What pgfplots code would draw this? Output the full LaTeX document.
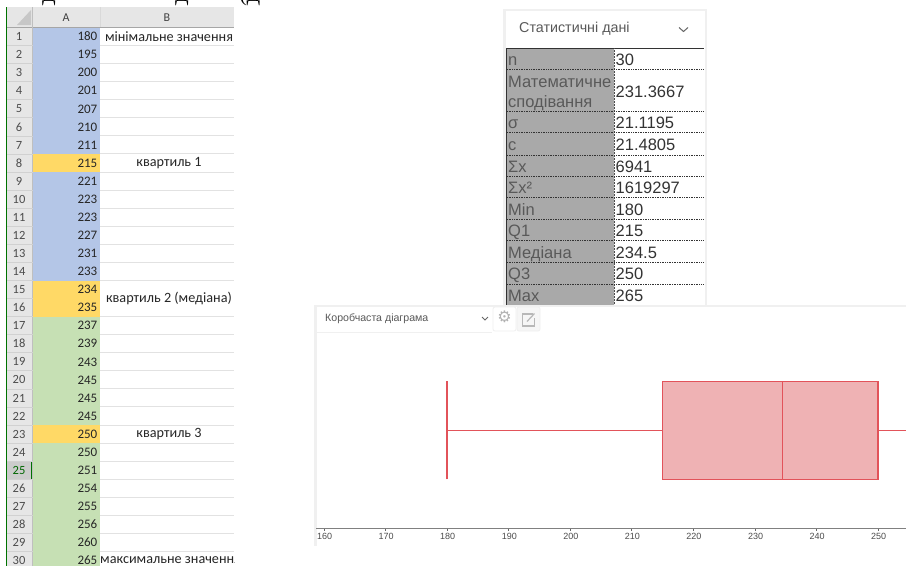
\documentclass[border=0pt]{standalone}
\usepackage{pgfplots}
\pgfplotsset{compat=1.18}
\usepgfplotslibrary{statistics}
\usepackage{fontspec}
\setmainfont{Liberation Sans}
\newfontfamily\calibri{Carlito}
\newfontfamily\tnr{Liberation Serif}
\newfontfamily\dejavu{DejaVu Sans}
\definecolor{sblue}{HTML}{B4C6E7}
\definecolor{sgreen}{HTML}{C6E0B4}
\definecolor{syellow}{HTML}{FFD966}
\definecolor{shead}{HTML}{E6E6E6}
\definecolor{sgrid}{HTML}{E2E2E2}
\definecolor{boxfill}{HTML}{EFB2B4}
\definecolor{boxline}{HTML}{E2535A}
\definecolor{panel}{HTML}{F0F0F0}
\definecolor{tgrey}{HTML}{A9A9A9}
\begin{document}
\begin{tikzpicture}[x=1pt,y=-1pt]
\useasboundingbox (0,0) rectangle (906,566);
\fill[white] (0,0) rectangle (906,566);
\begin{scope}
\clip (0,0) rectangle (906,566);
% clipped line of text at the top
\node[font=\tnr\fontsize{20}{20}\selectfont,anchor=base,black] at (49,1) {Д};
\node[font=\tnr\fontsize{20}{20}\selectfont,anchor=base,black] at (182,1) {Д};
\node[font=\tnr\fontsize{20}{20}\selectfont,anchor=base,black] at (250,1) {(Д};
% spreadsheet
\fill[shead] (7,7) rectangle (234,27);
\fill[shead] (7,27) rectangle (32.5,566);
\fill[sblue] (33,27.5) rectangle (100,280.5);
\fill[sgreen] (33,316.6) rectangle (100,566);
\fill[syellow] (33,154) rectangle (100,172);
\fill[syellow] (33,280.5) rectangle (100,316.6);
\fill[syellow] (33,425) rectangle (100,443);
\fill[white!80!black] (7,461.2) rectangle (32.5,479.2);
\draw[green!45!black,line width=1.2pt] (6.5,7) -- (6.5,566);
\draw[green!45!black,line width=1pt] (31.8,461.2) -- (31.8,479.2);
\draw[black!35,line width=.8pt] (7,27.2) -- (234,27.2);
\draw[black!25,line width=.6pt] (32.5,7) -- (32.5,566);
\draw[black!15,line width=.6pt] (100,7) -- (100,27);
\fill[black!22] (31,10) -- (31,25) -- (17,25) -- cycle;
\node[font=\calibri\fontsize{12}{12}\selectfont,text=black!75] at (66,18) {A};
\node[font=\calibri\fontsize{12}{12}\selectfont,text=black!75] at (167,18) {B};
\foreach \v [count=\i] in {180,195,200,201,207,210,211,215,221,223,223,227,231,233,234,235,237,239,243,245,245,245,250,250,251,254,255,256,260,265} {
  \pgfmathsetmacro{\yb}{27.5+18.07*\i}
  \pgfmathsetmacro{\yc}{\yb-9}
  \ifnum\i=15\else\draw[sgrid,line width=1pt] (100,\yb) -- (234,\yb);\fi
  \draw[black!18,line width=.8pt] (7,\yb) -- (32.5,\yb);
  \ifnum\i=25
    \node[font=\calibri\fontsize{12.5}{12}\selectfont,text=green!40!black] at (19,\yc) {\i};
  \else
    \node[font=\calibri\fontsize{12.5}{12}\selectfont,text=black!70] at (19,\yc) {\i};
  \fi
  \node[font=\calibri\fontsize{13}{12}\selectfont,text=black!85,anchor=east,inner xsep=0pt] at (97.5,\yc) {\v};
}
\node[font=\calibri\fontsize{14.2}{12}\selectfont,text=black!85] at (169,36.5) {мінімальне значення};
\node[font=\calibri\fontsize{14.2}{12}\selectfont,text=black!85] at (169,163) {квартиль 1};
\node[font=\calibri\fontsize{14.2}{12}\selectfont,text=black!85] at (169,298.5) {квартиль 2 (медіана)};
\node[font=\calibri\fontsize{14.2}{12}\selectfont,text=black!85] at (169,434) {квартиль 3};
\begin{scope}
\clip (100,545) rectangle (234,566);
\node[font=\calibri\fontsize{14.2}{12}\selectfont,text=black!85,anchor=west,inner xsep=0pt] at (100,560) {максимальне значення};
\end{scope}
% statistics panel
\fill[panel] (503,9) rectangle (706,11);
\fill[panel] (503,9) rectangle (506,305);
\fill[panel] (705,9) rectangle (706.5,305);
\node[font=\fontsize{14.3}{15}\selectfont,text=black!65,anchor=west,inner xsep=0pt] at (519,29) {Статистичні дані};
\draw[black!60,line width=1pt] (679,27.5) -- (683.5,31.5) -- (688,27.5);
\fill[tgrey] (506.5,48) rectangle (614,305);
\draw[black!80,line width=.9pt] (506,48) -- (704,48);
\draw[black!80,line width=.6pt] (506.5,48) -- (506.5,305);
\draw[black!70,densely dotted,line width=.5pt] (614,48) -- (614,305);
\foreach \yy in {69.5,111,132.7,155,176,197.7,219.3,240.7,262,284} {
  \draw[black!80,densely dotted,line width=.7pt] (507,\yy) -- (704,\yy);
}
\foreach \lab/\val/\yb in {n/30/65.5,σ/21.1195/128,c/21.4805/150,Σx/6941/172,Σx²/1619297/193,Min/180/215,Q1/215/236.5,Медіана/234.5/258,Q3/250/279.5,Max/265/301} {
  \node[font=\fontsize{16.5}{17}\selectfont,text=black!65,anchor=base west,inner xsep=0pt] at (508,\yb) {\lab};
  \node[font=\fontsize{16.5}{17}\selectfont,text=black!80,anchor=base west,inner xsep=0pt] at (615.5,\yb) {\val};
}
\node[font=\fontsize{16.5}{17}\selectfont,text=black!65,anchor=base west,inner xsep=0pt] at (508,87) {Математичне};
\node[font=\fontsize{16.5}{17}\selectfont,text=black!65,anchor=base west,inner xsep=0pt] at (508,107) {сподівання};
\node[font=\fontsize{16.5}{17}\selectfont,text=black!80,anchor=base west,inner xsep=0pt] at (615.5,97) {231.3667};
% chart panel
\fill[white] (316,305) rectangle (906,566);
\fill[panel] (316,304.5) rectangle (906,306.5);
\fill[panel] (314,305) rectangle (316.5,546);
\draw[panel,line width=.8pt] (316,332) -- (492,332);
\node[font=\fontsize{10.6}{11}\selectfont,text=black!65,anchor=west,inner xsep=0pt] at (325,318.5) {Коробчаста діаграма};
\draw[black!60,line width=.8pt] (482,317) -- (485,320) -- (488,317);
\draw[panel,line width=.8pt,rounded corners=2pt] (493,307) rectangle (516,331);
\draw[panel,line width=.8pt,fill=panel!60,rounded corners=2pt] (517,307) rectangle (540,331);
\node[font=\dejavu\fontsize{16}{16}\selectfont,text=black!30] at (504.5,316.5) {⚙};
\draw[black!28,line width=1.2pt] (533,314) -- (522.5,314) -- (522.5,326) -- (534.5,326) -- (534.5,318);
\draw[black!28,line width=1.2pt] (527,321.5) -- (534.5,313.5);
\end{scope}
\begin{axis}[
  at={(316pt,-528pt)}, anchor=south west,
  scale only axis, width=590pt, height=195pt,
  xmin=158.72, xmax=254.55, ymin=0, ymax=195,
  hide y axis,
  axis x line*=bottom,
  x axis line style={draw=black!50,line width=1pt,-},
  xtick={160,170,...,250},
  xtick pos=bottom,
  major tick length=2.5pt,
  xtick style={draw=black!60,line width=.5pt},
  tick align=outside,
  xticklabel style={font=\fontsize{9}{9}\selectfont,text=black!70,yshift=1pt,xshift=.7pt,/pgf/number format/assume math mode=true},
  /pgf/number format/1000 sep={},
  clip=true,
]
\addplot+[
  mark=none, solid,
  draw=boxline, line width=1.05pt, fill=boxfill,
  boxplot/draw direction=x,
  boxplot/draw position=97.7,
  boxplot/box extend=98,
  boxplot/whisker extend=98,
  boxplot prepared={
    lower whisker=180,
    lower quartile=215,
    median=234.5,
    upper quartile=250,
    upper whisker=265
  },
] coordinates {};
\end{axis}
\end{tikzpicture}
\end{document}
